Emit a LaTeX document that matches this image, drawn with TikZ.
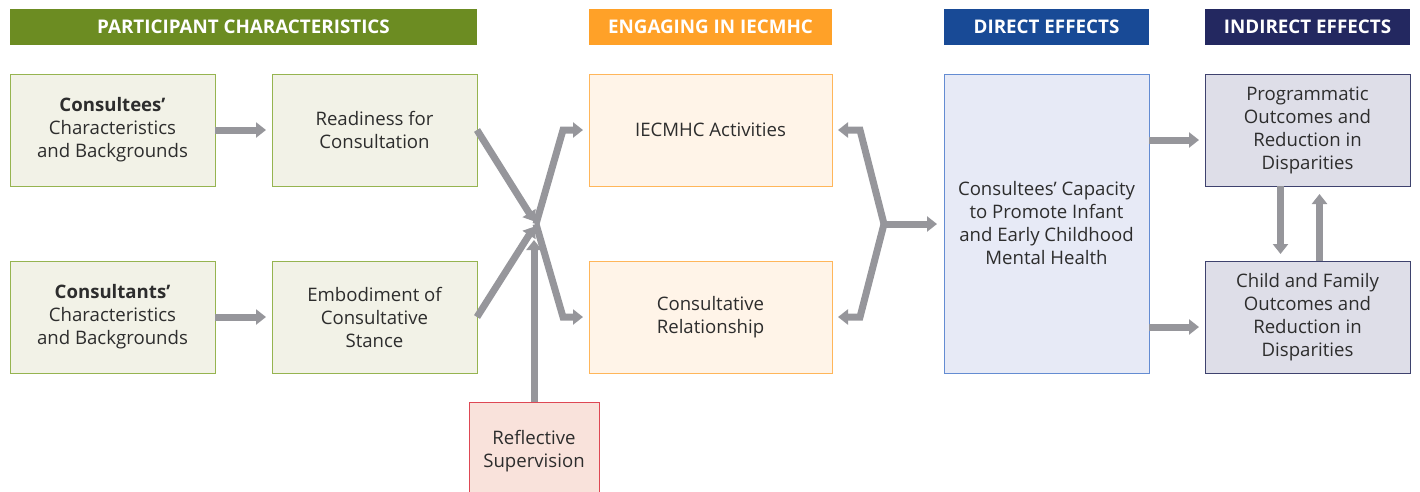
\documentclass[tikz,border=0pt]{standalone}
\usepackage{fontspec}
\setmainfont{Open Sans}
\usepackage{xcolor}
\usetikzlibrary{arrows.meta, positioning, calc}
\definecolor{partGreen}{RGB}{108, 140, 34}
\definecolor{partLine}{RGB}{150, 180, 80}
\definecolor{partFill}{RGB}{242, 242, 231}
\definecolor{engOrange}{RGB}{255, 161, 40}
\definecolor{engLine}{RGB}{255, 182, 90}
\definecolor{engFill}{RGB}{255, 244, 232}
\definecolor{reflLine}{RGB}{222, 72, 84}
\definecolor{reflFill}{RGB}{249, 226, 219}
\definecolor{dirBlue}{RGB}{24, 74, 150}
\definecolor{dirLine}{RGB}{100, 140, 210}
\definecolor{dirFill}{RGB}{231, 234, 246}
\definecolor{indNavy}{RGB}{35, 40, 96}
\definecolor{indLine}{RGB}{62, 66, 110}
\definecolor{indFill}{RGB}{222, 222, 232}
\definecolor{arrowGray}{RGB}{150, 150, 155}
\definecolor{textGray}{RGB}{45, 45, 45}

\begin{document}
\begin{tikzpicture}[x=1pt, y=-1pt]
                \tikzstyle{head} = [rectangle, anchor=north west, minimum width=205pt, minimum height=36pt, inner sep=0pt, outer sep=0pt, text=white, font=\fontsize{18.8}{22}\selectfont\bfseries]
                \tikzstyle{box} = [rectangle, draw, line width=1pt, anchor=north west, minimum width=205pt, minimum height=112pt, inner sep=0pt, outer sep=0pt, align=center, text=textGray, font=\fontsize{18.6}{23}\selectfont]
                \tikzstyle{arrow} = [-{Triangle[length=10pt, width=15pt]}, line width=7pt, arrowGray, shorten >=6pt]
                \useasboundingbox (0,0) rectangle (1420,491);

                \node[head, fill=partGreen, minimum width=467pt] (hpart) at (10,9) {PARTICIPANT CHARACTERISTICS};
                \node[head, fill=engOrange, minimum width=243pt] (heng) at (589,9) {ENGAGING IN IECMHC};
                \node[head, fill=dirBlue] (hdir) at (944,9) {DIRECT EFFECTS};
                \node[head, fill=indNavy] (hind) at (1205,9) {INDIRECT EFFECTS};

                \node[box, draw=partLine, fill=partFill] (cee) at (10,74) {\textbf{Consultees’}\\Characteristics\\and Backgrounds};
                \node[box, draw=partLine, fill=partFill] (ready) at (272,74) {Readiness for\\Consultation};
                \node[box, draw=partLine, fill=partFill] (cant) at (10,261) {\textbf{Consultants’}\\Characteristics\\and Backgrounds};
                \node[box, draw=partLine, fill=partFill] (embod) at (272,261) {Embodiment of\\Consultative\\Stance};
                \node[box, draw=engLine, fill=engFill, minimum width=243pt] (act) at (589,74) {IECMHC Activities};
                \node[box, draw=engLine, fill=engFill, minimum width=243pt] (rel) at (589,261) {Consultative\\Relationship};
                \node[box, draw=reflLine, fill=reflFill, minimum width=130pt, minimum height=98pt] (refl) at (469,402) {Reflective\\Supervision};
                \node[box, draw=dirLine, fill=dirFill, minimum height=299pt] (cap) at (944,74) {Consultees’ Capacity\\to Promote Infant\\and Early Childhood\\Mental Health};
                \node[box, draw=indLine, fill=indFill] (prog) at (1205,74) {Programmatic\\Outcomes and\\Reduction in\\Disparities};
                \node[box, draw=indLine, fill=indFill] (child) at (1205,261) {Child and Family\\Outcomes and\\Reduction in\\Disparities};

                \coordinate (hubl) at (536,224);
                \coordinate (hubr) at (884,224);
                \coordinate (toprog) at ([yshift=-10pt]prog.west);
                \coordinate (tochild) at ([yshift=-10pt]child.west);

                \draw[arrow] (cee) -- (ready);
                \draw[arrow] (cant) -- (embod);
                \draw[arrow, shorten >=3pt] (ready.east) -- (hubl);
                \draw[arrow, shorten >=3pt] (embod.east) -- (hubl);
                \draw[arrow, shorten >=16pt] (refl.north) -- (refl.north |- hubl);
                \draw[arrow] (hubl) -- ([xshift=-26pt]act.west) -- (act.west);
                \draw[arrow] (hubl) -- ([xshift=-26pt]rel.west) -- (rel.west);
                \draw[arrow] (hubr) -- ([xshift=28pt]act.east) -- (act.east);
                \draw[arrow] (hubr) -- ([xshift=28pt]rel.east) -- (rel.east);
                \draw[arrow, shorten >=7pt] (hubr) -- (cap.west |- hubr);
                \draw[arrow] (cap.east |- toprog) -- (toprog);
                \draw[arrow] (cap.east |- tochild) -- (tochild);
                \draw[arrow, shorten >=7pt] ([xshift=-27pt]prog.south) -- ([xshift=-27pt]child.north);
                \draw[arrow, shorten >=8pt] ([xshift=12pt]child.north) -- ([xshift=12pt]prog.south);
            \end{tikzpicture}
\end{document}
